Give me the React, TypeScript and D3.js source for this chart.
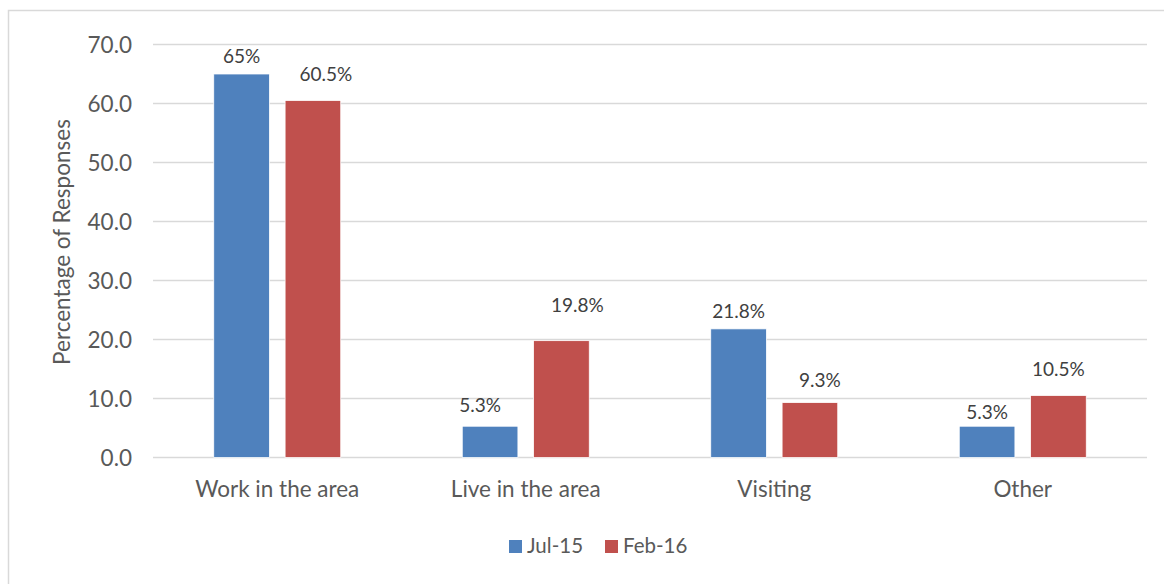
import React from "react";
import * as d3 from "d3";

const categories = ["Work in the area", "Live in the area", "Visiting", "Other"];
const seriesNames = ["Jul-15", "Feb-16"];
const jul15 = [65, 5.3, 21.8, 5.3];
const feb16 = [60.5, 19.8, 9.3, 10.5];
const jul15Labels = ["65%", "5.3%", "21.8%", "5.3%"];
const feb16Labels = ["60.5%", "19.8%", "9.3%", "10.5%"];
const yTicks = [0, 10, 20, 30, 40, 50, 60, 70];

// layout: manual label nudges (as placed in the original)
const labelDx = [[0, -10, 0, 0], [13, 16, 10, 0]];
const labelGap = [[11, 14, 11, 7], [20, 29, 16, 20]];

const colors = ["#4F81BD", "#C0504D"];
const W = 1164;
const H = 584;
const FONT = "Lato, 'Open Sans', sans-serif";
const TEXT = "#595959";

export default function App() {
  const x0 = d3.scaleBand<string>().domain(categories).range([153, 1147]).paddingInner(0.489).paddingOuter(0.2445);
  const x1 = d3.scaleBand<string>().domain(seriesNames).range([0, x0.bandwidth()]).paddingInner(0.22);
  const y = d3.scaleLinear().domain([0, 70]).range([457.5, 44.5]);
  const values = [jul15, feb16];
  const labels = [jul15Labels, feb16Labels];

  return (
    <svg width={W} height={H} style={{ position: "absolute", left: 0, top: 0, background: "#fff" }} fontFamily={FONT}>
      <rect x={8.5} y={10.5} width={W + 20} height={H + 20} fill="#fff" stroke="#d9d9d9" strokeWidth={1.5} />
      {yTicks.map((t) => (
        <g key={t}>
          <line x1={153} x2={1147} y1={y(t)} y2={y(t)} stroke="#d9d9d9" strokeWidth={1.5} />
          <text x={132} y={y(t) + 3} textAnchor="end" dominantBaseline="middle" fontSize={22.5} fill={TEXT}>
            {d3.format(".1f")(t)}
          </text>
        </g>
      ))}
      <text transform={`translate(70,242) rotate(-90)`} textAnchor="middle" fontSize={22.5} fill={TEXT}>
        Percentage of Responses
      </text>
      {categories.map((c, ci) => (
        <g key={c}>
          {seriesNames.map((s, si) => {
            const v = values[si][ci];
            const bx = (x0(c) ?? 0) + (x1(s) ?? 0);
            const bw = x1.bandwidth();
            return (
              <g key={s}>
                <rect x={bx} y={y(v)} width={bw} height={y(0) - y(v)} fill={colors[si]} stroke="#fff" strokeWidth={0.75} />
                <text
                  x={bx + bw / 2 + labelDx[si][ci]}
                  y={y(v) - labelGap[si][ci]}
                  textAnchor="middle"
                  fontSize={19}
                  fill={"#404040"}
                >
                  {labels[si][ci]}
                </text>
              </g>
            );
          })}
          <text x={(x0(c) ?? 0) + x0.bandwidth() / 2} y={497} textAnchor="middle" fontSize={22.5} fill={TEXT}>
            {c}
          </text>
        </g>
      ))}
      {seriesNames.map((s, si) => {
        const lx = [509, 605][si];
        return (
          <g key={s}>
            <rect x={lx} y={540} width={13} height={13} fill={colors[si]} />
            <text x={lx + 18} y={553} fontSize={20.5} fill={TEXT}>
              {s}
            </text>
          </g>
        );
      })}
    </svg>
  );
}
